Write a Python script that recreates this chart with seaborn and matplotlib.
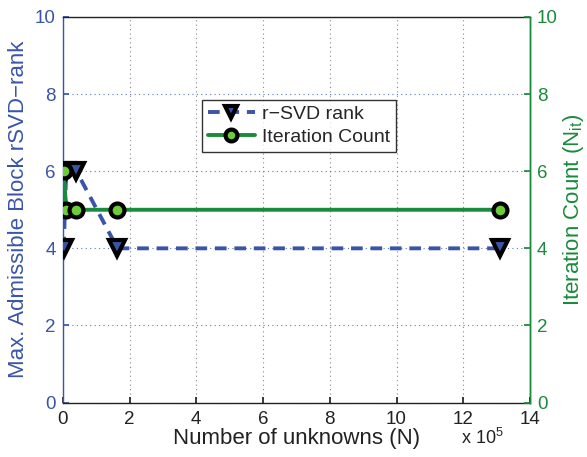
import numpy as np
import pandas as pd
import matplotlib
matplotlib.use("Agg")
import matplotlib.pyplot as plt
import seaborn as sns
from matplotlib.ticker import FuncFormatter

N = [2560, 10240, 40960, 163840, 1310720]
rsvd_rank = [4, 6, 6, 4, 4]
N_it = [2560, 10240, 40960, 163840, 1310720]
iter_count = [6, 5, 5, 5, 5]

sns.set_theme(style="white")
plt.rcParams['font.family'] = ['Liberation Sans', 'DejaVu Sans']
plt.rcParams['mathtext.fontset'] = 'custom'
plt.rcParams['mathtext.rm'] = 'Liberation Sans'

blue = "#3a55a8"
green = "#1a8a3c"
lime = "#6ccc3a"

df1 = pd.DataFrame({"N": N, "rank": rsvd_rank})
df2 = pd.DataFrame({"N": N_it, "it": iter_count})

fig, ax = plt.subplots(figsize=(5.87, 4.57), dpi=100)
fig.subplots_adjust(left=0.107, right=0.903, top=0.963, bottom=0.119)
ax2 = ax.twinx()

sns.lineplot(data=df1, x="N", y="rank", ax=ax, color=blue, linewidth=2.8,
             linestyle=(0, (3, 2)), marker="v", markersize=11,
             markerfacecolor=blue, markeredgecolor="black", markeredgewidth=3,
             zorder=3)
sns.lineplot(data=df2, x="N", y="it", ax=ax2, color=green, linewidth=2.8,
             marker="o", markersize=10, markerfacecolor=lime,
             markeredgecolor="black", markeredgewidth=3, zorder=3)

for a in (ax, ax2):
    a.set_xlim(0, 14e5)
    a.set_ylim(0, 10)
    a.set_yticks(range(0, 11, 2))

ax.set_xticks(np.arange(0, 15e5, 2e5))
ax.xaxis.set_major_formatter(FuncFormatter(lambda v, p: f"{v/1e5:g}"))

ax.grid(True, axis="y", linestyle=(0, (1, 3)), color=blue, linewidth=0.8, alpha=0.8)
ax.grid(True, axis="x", linestyle=(0, (1, 3)), color="#888888", linewidth=0.8)

ax.set_xlabel("Number of unknowns (N)", fontsize=16, color="#222222", labelpad=0)
ax.set_ylabel("Max. Admissible Block rSVD\u2212rank", fontsize=16, color=blue, labelpad=4)
ax2.set_ylabel("Iteration Count (N$_{\\mathrm{it}}$)", fontsize=16, color=green, labelpad=2)

ax.tick_params(axis="y", colors=blue, labelsize=13.5, length=4, direction="in", left=True, pad=5)
ax.tick_params(axis="x", colors="#222222", labelsize=13.5, length=4, direction="in", bottom=True, pad=6)
ax2.tick_params(axis="y", colors=green, labelsize=13.5, length=4, direction="in", right=True, pad=5)

for a in (ax, ax2):
    for s in a.spines.values():
        s.set_linewidth(1.0)
ax.spines["left"].set_color(blue)
ax.spines["bottom"].set_color("#222222")
ax.spines["top"].set_color("#222222")
ax2.spines["right"].set_color(green)
ax2.spines["left"].set_visible(False)
ax2.spines["top"].set_visible(False)
ax2.spines["bottom"].set_visible(False)

fig.text(0.785, 0.028, "x 10$^5$", fontsize=13, color="#222222")

h1 = ax.get_lines()[0]
h2 = ax2.get_lines()[0]
leg = ax2.legend([h1, h2], ["r\u2212SVD rank", "Iteration Count"], loc="upper left",
                 bbox_to_anchor=(0.298, 0.785), fontsize=14, frameon=True, fancybox=False,
                 edgecolor="black", handlelength=2.4, borderpad=0.3, labelspacing=0.25,
                 markerscale=0.85, handletextpad=0.4, borderaxespad=0)
leg.get_frame().set_linewidth(1.0)

fig.savefig("out.png", dpi=100)
